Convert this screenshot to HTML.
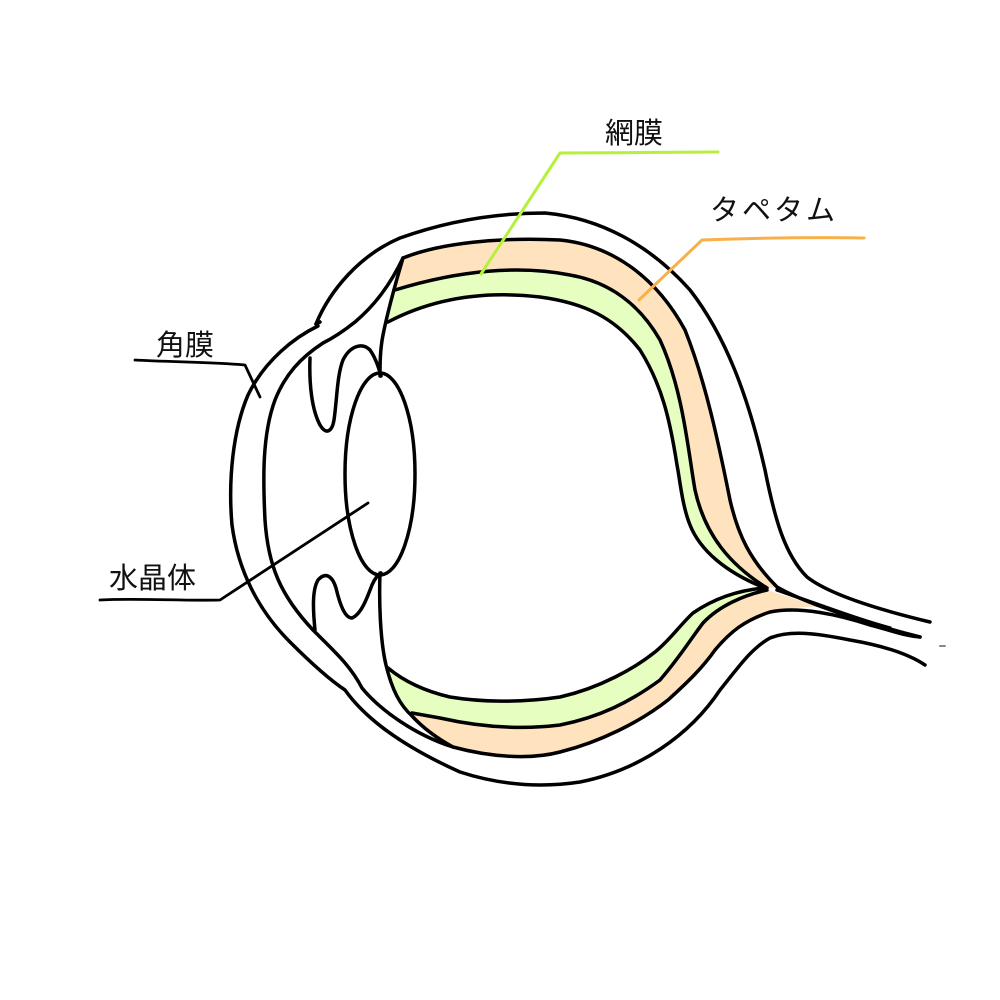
<!DOCTYPE html>
<html><head><meta charset="utf-8"><style>
html,body{margin:0;padding:0;background:#fff;}
svg{display:block;}
text{font-family:"Liberation Sans","Noto Sans CJK JP",sans-serif;font-size:29px;fill:#111;}
</style></head><body>
<svg width="1000" height="1000" viewBox="0 0 1000 1000" xmlns="http://www.w3.org/2000/svg">
<g stroke="none">
<path fill="#ffe3bf" d="M403,258 C440,243 500,237 560,240 C610,245 655,275 685,330 C705,380 718,440 730,500 C738,535 750,560 777,587 L767,588 C730,565 705,535 695,490 C688,450 683,390 660,340 C640,305 610,282 570,275 C520,265 460,270 395,290 Z"/>
<path fill="#e6ffc0" d="M395,290 C460,270 520,265 570,275 C610,282 640,305 660,340 C683,390 688,450 695,490 C705,535 730,565 767,588 L753,585 C725,572 700,550 690,525 C682,505 680,480 677,465 C670,420 662,385 640,350 C615,318 585,303 540,297 C480,290 430,300 388,322 Z"/>
<path fill="#ffe3bf" d="M767,590 C745,595 720,605 703,623 C690,640 680,657 660,680 C630,702 600,717 560,725 C520,730 480,727 440,718 L412,713 C425,730 440,740 453,745 C490,755 530,758 560,752 C600,742 640,722 668,700 C690,680 703,667 715,650 C730,632 745,620 770,612 C790,608 805,606 820,607 Z"/>
<path fill="#e6ffc0" d="M765,588 C740,590 715,598 693,613 C680,625 670,640 655,652 C635,668 600,688 560,697 C520,703 480,702 450,697 C420,690 400,678 388,668 C395,690 402,705 412,713 C440,718 480,727 520,728 C560,725 600,717 630,700 C660,680 680,657 690,640 C703,623 730,600 767,590 Z"/>
</g>
<g fill="none" stroke="#000" stroke-width="3.5" stroke-linecap="round" stroke-linejoin="round">
<path d="M316,324 C330,290 360,255 400,238 C450,220 500,213 545,213 C600,218 650,245 690,290 C725,335 748,395 765,470 C775,520 785,555 807,577 C830,595 880,610 930,622"/>
<path d="M318,326 C295,337 265,360 248,395 C233,430 228,480 232,525 C238,570 258,610 290,642 C310,662 330,680 345,690 C365,718 400,745 460,772 C500,785 540,788 580,782 C640,770 690,735 720,690 C740,665 752,648 770,638 C790,630 815,633 850,640 C885,646 910,655 925,665"/>
<path d="M403,258 C390,285 375,305 355,322 C345,330 335,337 323,343 C300,358 285,375 275,400 C262,435 263,480 265,520 C268,565 280,595 313,630 C335,652 350,665 362,688 C380,710 415,735 453,747 C490,757 530,760 560,752 C600,742 640,722 668,700 C690,680 703,667 715,650 C730,632 745,620 770,612 C800,606 840,615 870,625 C890,630 905,636 920,637"/>
<path d="M403,258 C440,243 500,237 560,240 C610,245 655,275 685,330 C705,380 718,440 730,500 C738,535 750,560 777,587 C800,600 830,610 860,620 C885,628 900,632 920,637"/>
<path d="M316,324 L320,322" />
<path d="M395,290 C460,270 520,265 570,275 C610,282 640,305 660,340 C683,390 688,450 695,490 C705,535 730,565 767,588"/>
<path d="M388,322 C430,300 480,290 540,297 C585,303 615,318 640,350 C662,385 670,420 677,465 C680,480 682,505 690,525 C700,550 725,572 765,588"/>
<path d="M765,588 C740,590 715,598 693,613 C680,625 670,640 655,652 C635,668 600,688 560,697 C520,703 480,702 450,697 C420,690 400,678 388,668"/>
<path d="M767,590 C745,595 720,605 703,623 C690,640 680,657 660,680 C630,702 600,717 560,725 C520,730 480,727 440,718 L412,713"/>
<path d="M403,258 C395,285 388,310 383,335 C380,350 380,365 380,376"/>
<path d="M380,573 C379,600 380,640 386,665 C392,690 400,705 412,716 C425,730 440,740 453,747"/>
<ellipse cx="380" cy="474" rx="35" ry="101"/>
<path d="M310,358 C309,385 312,410 320,425 C326,435 332,432 334,420 C337,400 337,375 343,360 C350,346 362,342 370,350 C375,357 378,365 381,376"/>
<path d="M315,630 C313,610 312,590 318,580 C325,572 332,575 336,588 C340,605 345,618 352,618 C362,614 368,595 372,585 C375,578 378,575 381,573"/>
<path d="M777,590 C820,605 860,620 890,628"/>
<path d="M940,646 L945,646" stroke="#888" stroke-width="2"/>
<path d="M135,360 C170,362 210,362 245,365 L260,397" stroke-width="2.8"/>
<path d="M100,600 C140,598 180,601 220,600 L368,503" stroke-width="2.8"/>
<path d="M481,274 L560,153 C610,153 670,152 718,152" stroke="#b5f03a" stroke-width="3"/>
<path d="M639,300 L702,240 C760,238 820,237 864,238" stroke="#f7b04a" stroke-width="3"/>
</g>
<text x="605" y="143">網膜</text>
<text x="710" y="220" letter-spacing="3">タペタム</text>
<text x="156" y="355">角膜</text>
<text x="109" y="588">水晶体</text>
</svg>
</body></html>
